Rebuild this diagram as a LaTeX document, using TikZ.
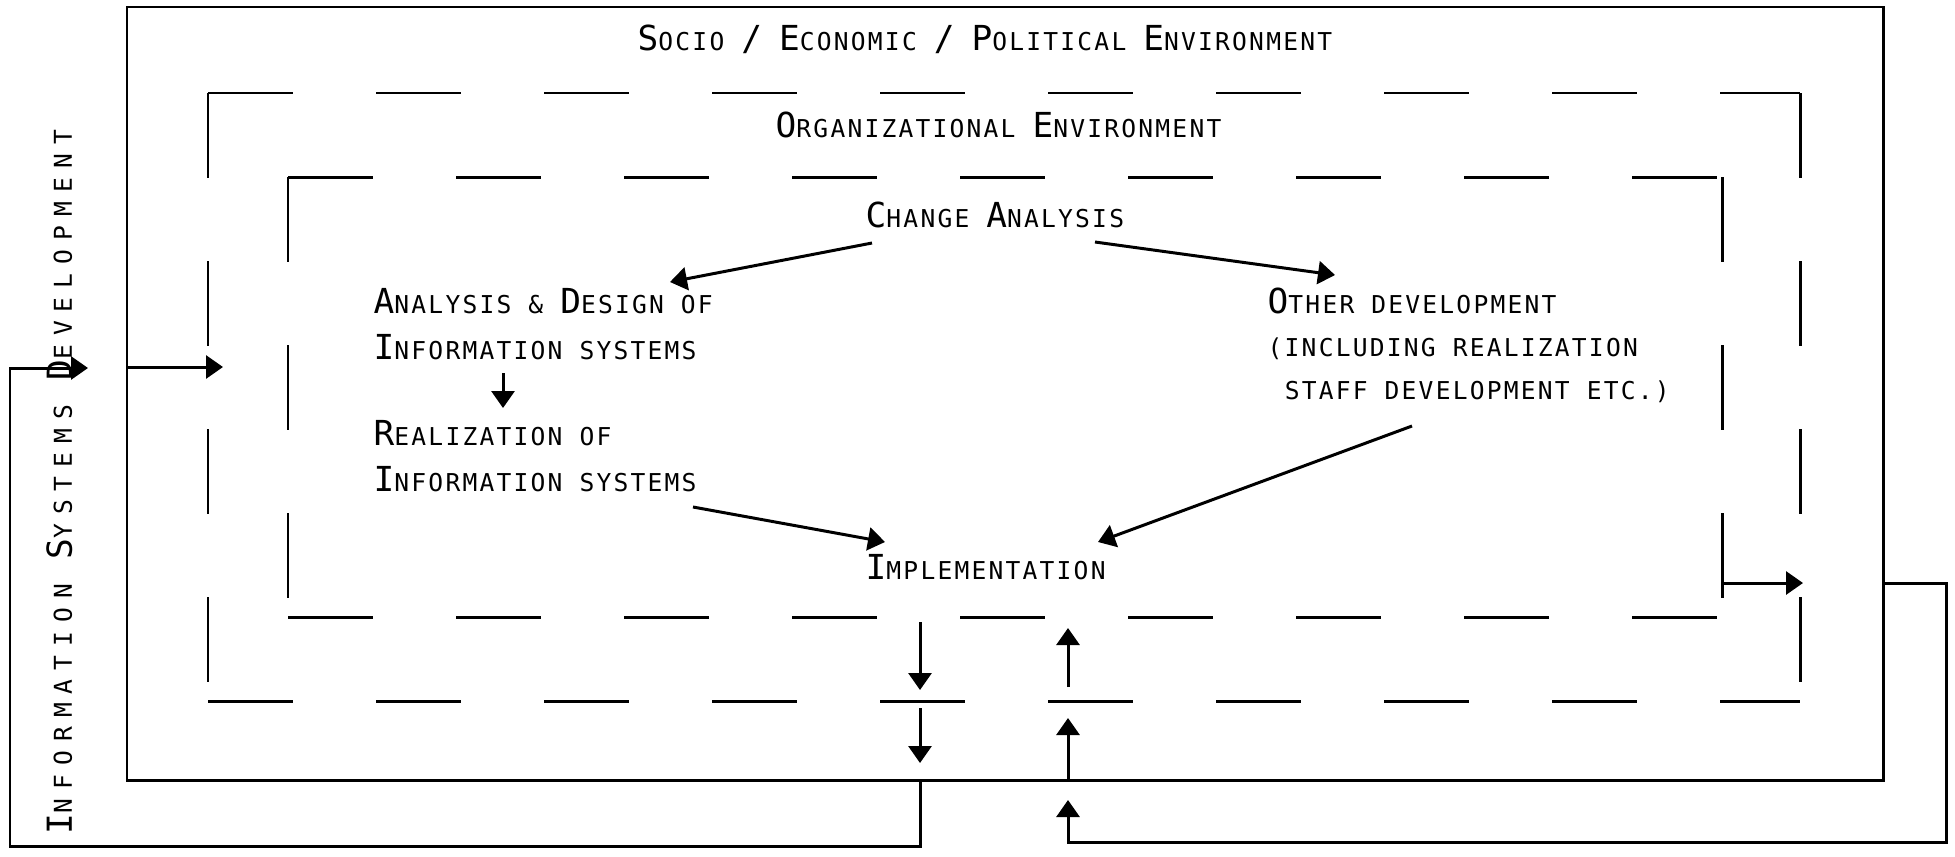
\documentclass[tikz,border=0pt]{standalone}
\usepackage{fontspec}
\newfontfamily\diafont[LetterSpace=9]{DejaVu Sans Mono}
\newfontfamily\diawidefont[LetterSpace=37]{DejaVu Sans Mono}
\usetikzlibrary{arrows.meta}
\newcommand{\bigc}[1]{{\fontsize{9.8}{13}\selectfont #1}}

\begin{document}
\begin{tikzpicture}[
  lbl/.style={inner sep=0pt, anchor=base west, font=\diafont\fontsize{7}{13}\selectfont},
  blk/.style={lbl, anchor=north west, align=left},
  arr/.style={-{Triangle[length=0.17cm,width=0.23cm]}, line width=0.85pt},
  env/.style={line width=0.85pt, dash pattern=on 0.85cm off 0.83cm}]
\useasboundingbox (0,0) rectangle (19.55,8.56);
\draw[line width=0.85pt] (1.27,0.76) rectangle (18.83,8.49);
\coordinate (mTL) at (2.08,7.63);
\coordinate (mTR) at (18.00,7.63);
\coordinate (mBL) at (2.08,1.55);
\coordinate (mBR) at (18.00,1.55);
\coordinate (iTL) at (2.88,6.79);
\coordinate (iTR) at (17.22,6.79);
\coordinate (iBL) at (2.88,2.39);
\coordinate (iBR) at (17.22,2.39);
\draw[env] (mTL) -- (mTR);
\draw[env] (mTR) -- (mBR);
\draw[env] (mTL) -- (mBL);
\draw[env] (mBL) -- (mBR);
\draw[env] (iTL) -- (iTR);
\draw[env] (iTR) -- (iBR);
\draw[env] (iTL) -- (iBL);
\draw[env] (iBL) -- (iBR);
\node[lbl] (socio) at (6.37,8.06) {\bigc{S}OCIO \bigc{/} \bigc{E}CONOMIC \bigc{/} \bigc{P}OLITICAL \bigc{E}NVIRONMENT};
\node[lbl] (org) at (7.75,7.19) {\bigc{O}RGANIZATIONAL \bigc{E}NVIRONMENT};
\node[lbl] (change) at (8.65,6.29) {\bigc{C}HANGE \bigc{A}NALYSIS};
\node[blk] (ana) at (3.73,5.68) {\bigc{A}NALYSIS \& \bigc{D}ESIGN OF\\\bigc{I}NFORMATION SYSTEMS};
\node[blk] (real) at (3.73,4.36) {\bigc{R}EALIZATION OF\\\bigc{I}NFORMATION SYSTEMS};
\node[blk, font=\diafont\fontsize{7}{12.3}\selectfont] (other) at (12.67,5.69) {\bigc{O}THER DEVELOPMENT\\(INCLUDING REALIZATION\\~STAFF DEVELOPMENT ETC.)};
\node[lbl] (impl) at (8.65,2.77) {\bigc{I}MPLEMENTATION};
\node[lbl, rotate=90] (isd) at (0.72,0.21) {\diawidefont\bigc{I}NFORMATION \bigc{S}YSTEMS \bigc{D}EVELOPMENT};
\coordinate (d1) at (9.20,2.34);
\coordinate (d2) at (9.20,1.66);
\coordinate (d3) at (9.20,1.48);
\coordinate (d4) at (9.20,0.93);
\coordinate (u1) at (10.68,0.76);
\coordinate (u2) at (10.68,1.38);
\coordinate (u3) at (10.68,1.69);
\coordinate (u4) at (10.68,2.28);
\coordinate (outL) at (1.27,4.89);
\coordinate (midL) at (2.23,4.89);
\coordinate (inR) at (17.22,2.73);
\coordinate (midR) at (18.03,2.73);
\coordinate (outR) at (18.83,2.73);
\coordinate (outB) at (9.20,0.76);
\coordinate (isdTip) at (0.88,4.88);
\coordinate (retTip) at (10.68,0.56);
\path [arr] ([shift={(0.07,-0.16)}]change.base west) edge ([shift={(2.97,0.06)}]ana.north west);
\path [arr] ([shift={(2.30,-0.15)}]change.base west) edge ([shift={(0.68,0.12)}]other.north west);
\path [arr] ([shift={(1.30,-0.85)}]ana.north west) edge ([shift={(1.30,0.12)}]real.north west);
\path [arr] ([shift={(3.20,-0.87)}]real.north west) edge ([shift={(0.20,0.37)}]impl.base west);
\path [arr] ([shift={(1.45,-1.39)}]other.north west) edge ([shift={(2.33,0.37)}]impl.base west);
\path [arr] (d1) edge (d2);
\path [arr] (d3) edge (d4);
\path [arr] (u1) edge (u2);
\path [arr] (u3) edge (u4);
\path [arr] (outL) edge (midL);
\path [arr] (inR) edge (midR);
\draw [arr] (outB) |- (0.10,0.10) |- (isdTip);
\draw [arr] (outR) -| (19.46,0.14) -| (retTip);
\end{tikzpicture}
\end{document}
